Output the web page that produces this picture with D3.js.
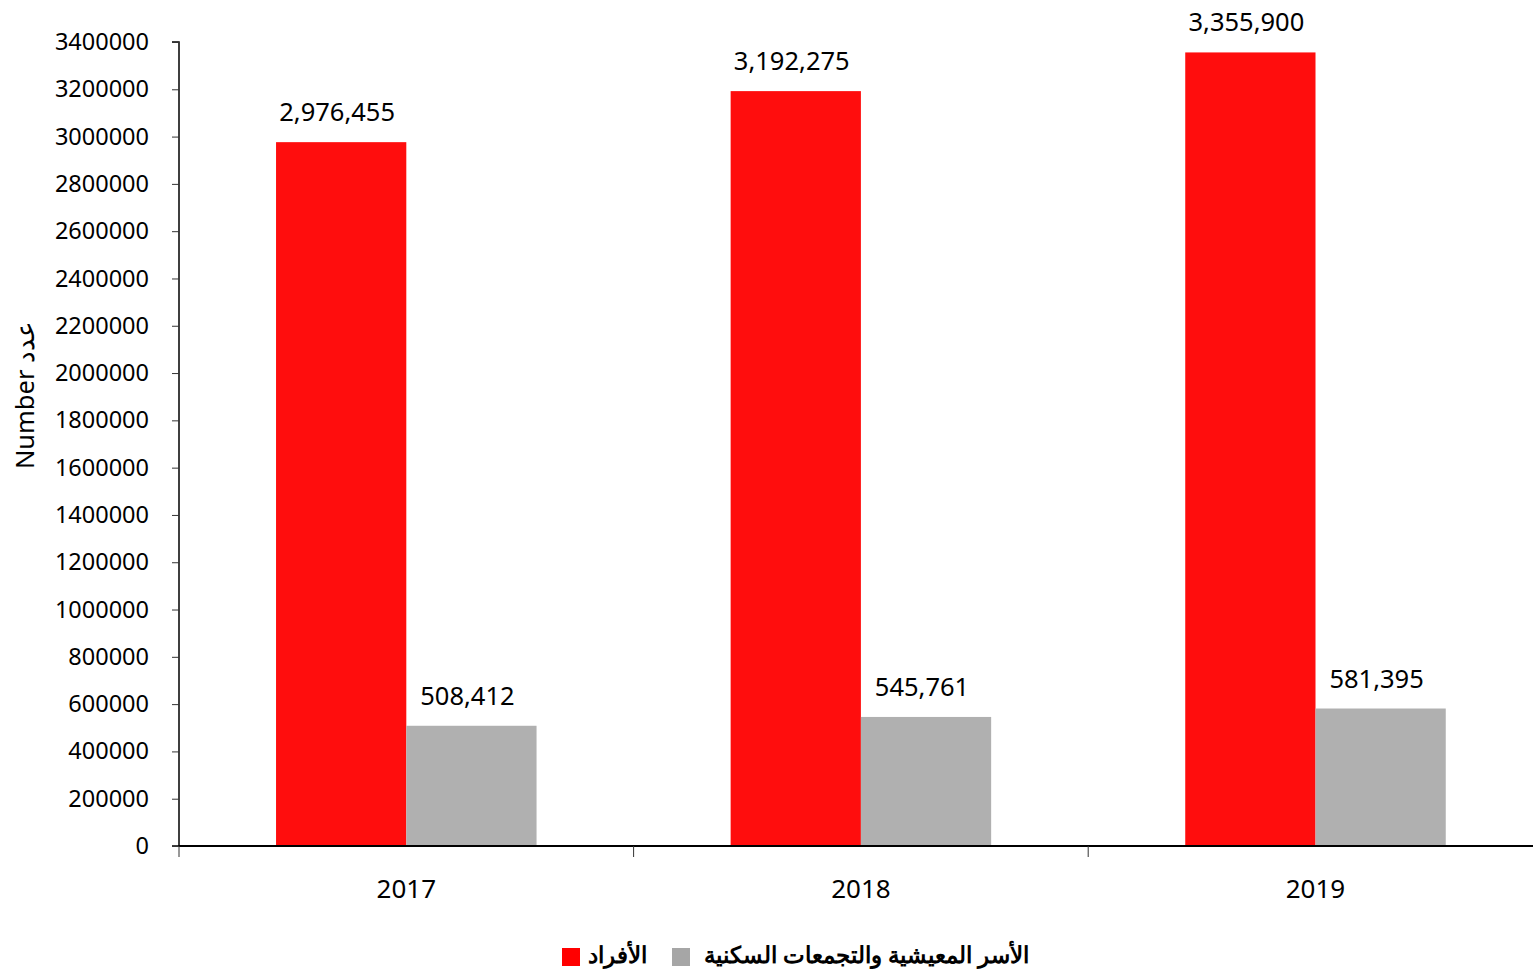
<!DOCTYPE html>
<html><head><meta charset="utf-8">
<script src="https://cdn.jsdelivr.net/npm/d3@7"></script>
<style>body{margin:0;background:#fff}svg{display:block}text{font-family:"Noto Sans",sans-serif;fill:#000}</style>
</head><body>
<svg id="c" width="1533" height="972"></svg>
<script>
const years = ["2017","2018","2019"];
const seriesNames = ["الأفراد","الأسر المعيشية والتجمعات السكنية"];
const individuals = [2976455, 3192275, 3355900];
const households = [508412, 545761, 581395];
const yTicks = [0,200000,400000,600000,800000,1000000,1200000,1400000,1600000,1800000,2000000,2200000,2400000,2600000,2800000,3000000,3200000,3400000];
const colors = ["#FF0D0D","#B0B0B0"];
const legendColors = ["#FF0000","#A6A6A6"];

const svg = d3.select("#c");
const x0 = 179, x1 = 179 + 3*454.6, yb = 846, yt = 42;
const x = d3.scaleBand().domain(years).range([x0, x1]).paddingInner(0).paddingOuter(0);
const xs = d3.scaleBand().domain([0,1]).range([0, x.bandwidth()]).paddingOuter(0.745).paddingInner(0);
const y = d3.scaleLinear().domain([0,3400000]).range([yb, yt]);

const data = [individuals, households];
years.forEach((yr,i)=>{
  const g = svg.append("g").attr("transform",`translate(${x(yr)},0)`);
  data.forEach((s,k)=>{
    g.append("rect").attr("x", xs(k)).attr("width", xs.bandwidth())
      .attr("y", y(s[i])).attr("height", yb - y(s[i])).attr("fill", colors[k]);
    g.append("text").attr("x", xs(k)+xs.bandwidth()/2 - 4).attr("y", y(s[i]) - 21)
      .attr("text-anchor","middle").attr("font-size", 25.5).text(d3.format(",")(s[i]));
  });
});

// y axis
const ya = svg.append("g").attr("transform",`translate(${x0},0)`)
  .call(d3.axisLeft(y).tickValues(yTicks).tickFormat(d3.format("d")).tickSize(7).tickPadding(23));
ya.selectAll("text").attr("font-size", 23.5).attr("font-family","Noto Sans");
ya.select(".domain").attr("stroke","#000").attr("stroke-width",1.5).attr("d",`M-7,${yb}H0V${yt}H-7`);
ya.selectAll(".tick line").attr("stroke","#333");

// x axis
const xa = svg.append("g").attr("transform",`translate(0,${yb})`)
  .call(d3.axisBottom(x).tickSize(0).tickPadding(34));
xa.select(".domain").attr("stroke","#000").attr("stroke-width",2).attr("d",`M${x0},0H${x1}`);
xa.selectAll("text").attr("font-size", 26).attr("font-family","Noto Sans");
svg.append("g").selectAll("line").data(years.concat(["end"])).join("line")
  .attr("x1",(d,i)=>x0+i*x.bandwidth()).attr("x2",(d,i)=>x0+i*x.bandwidth())
  .attr("y1",yb).attr("y2",yb+11).attr("stroke","#333").attr("stroke-width",1);

// y title
svg.append("text").attr("transform","translate(34,395) rotate(-90)").attr("text-anchor","middle")
  .attr("font-size",25.5).text("Number عدد");

// legend
const lg = svg.append("g");
const items = [{name:seriesNames[0], c:legendColors[0], x:562, gap:8}, {name:seriesNames[1], c:legendColors[1], x:672, gap:14}];
items.forEach(it=>{
  lg.append("rect").attr("x", it.x).attr("y", 948).attr("width",18).attr("height",18).attr("fill", it.c);
  lg.append("text").attr("x", it.x+18+it.gap).attr("y", 963).attr("font-size",23).attr("font-weight","bold")
    .attr("direction","ltr").attr("text-anchor","start").text(it.name);
});
</script>
</body></html>
